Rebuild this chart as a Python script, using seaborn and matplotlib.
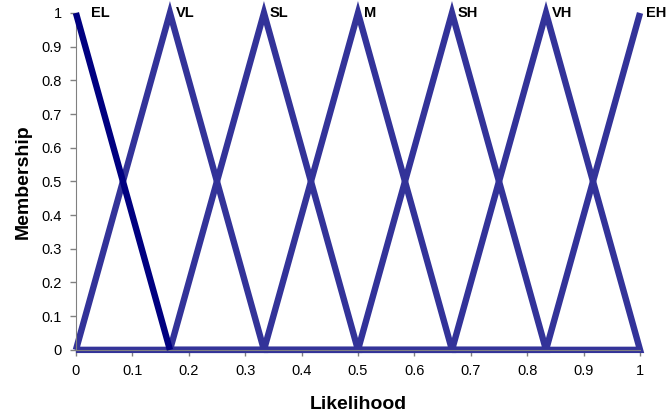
import numpy as np
import pandas as pd
import seaborn as sns
import matplotlib.pyplot as plt

# linguistic terms and triangle corners (left, peak, right)
terms = ['EL', 'VL', 'SL', 'M', 'SH', 'VH', 'EH']
left = [0, 0, 1/6, 2/6, 3/6, 4/6, 5/6]
peak = [0, 1/6, 2/6, 3/6, 4/6, 5/6, 1]
right = [1/6, 2/6, 3/6, 4/6, 5/6, 1, 1]

# colours
navy = '#000080'
purple = '#333399'

sns.set_style('white')
plt.rcParams['font.family'] = ['Liberation Sans', 'DejaVu Sans']
plt.rcParams['text.color'] = 'black'
plt.rcParams['axes.labelcolor'] = 'black'
plt.rcParams['xtick.color'] = 'black'
plt.rcParams['ytick.color'] = 'black'

fig = plt.figure(figsize=(6.66, 4.18), dpi=100)
ax = fig.add_axes([0.114, 0.163, 0.847, 0.806])

# build a long table of the triangle outlines
rows = []
for i, t in enumerate(terms):
    if t == 'EL':
        xs = [peak[i], right[i]]
        ys = [1, 0]
    elif t == 'EH':
        xs = [left[i], peak[i]]
        ys = [0, 1]
    else:
        xs = [left[i], peak[i], right[i], left[i]]
        ys = [0, 1, 0, 0]
    for k, (x, y) in enumerate(zip(xs, ys)):
        rows.append({'term': t, 'x': x, 'y': y, 'order': k})
df = pd.DataFrame(rows)

# triangles, EL drawn on top in navy
for t in terms[1:]:
    sub = df[df['term'] == t]
    sns.lineplot(data=sub, x='x', y='y', sort=False, estimator=None,
                 color=purple, lw=4.6, ax=ax, clip_on=False,
                 solid_joinstyle='miter', solid_capstyle='butt')
sub = df[df['term'] == 'EL']
sns.lineplot(data=sub, x='x', y='y', sort=False, estimator=None,
             color=navy, lw=4.6, ax=ax, clip_on=False, zorder=5,
             solid_capstyle='butt')

# labels next to the peaks
for i, t in enumerate(terms):
    dx = 11 if t == 'EL' else 4
    ax.annotate(t, (peak[i], 1), xytext=(dx, 0), textcoords='offset points',
                ha='left', va='center', fontsize=10.5, fontweight='bold',
                color='black')

ax.set_xlim(0, 1)
ax.set_ylim(0, 1)
ax.set_xticks(np.arange(0, 1.01, 0.1))
ax.set_yticks(np.arange(0, 1.01, 0.1))
ax.set_xticklabels(['0', '0.1', '0.2', '0.3', '0.4', '0.5', '0.6', '0.7', '0.8', '0.9', '1'])
ax.set_yticklabels(['0', '0.1', '0.2', '0.3', '0.4', '0.5', '0.6', '0.7', '0.8', '0.9', '1'])
ax.tick_params(axis='both', labelsize=10.5, direction='out', length=4, width=1,
               color='#808080', labelcolor='black', bottom=True, left=True, pad=6)
ax.spines['top'].set_visible(False)
ax.spines['right'].set_visible(False)
ax.spines['left'].set_color('#808080')
ax.spines['bottom'].set_color('#808080')
ax.set_xlabel('Likelihood', fontsize=14, fontweight='bold', labelpad=13)
ax.set_ylabel('Membership', fontsize=14, fontweight='bold', labelpad=7)
ax.grid(False)

fig.savefig('out.png', dpi=100)
